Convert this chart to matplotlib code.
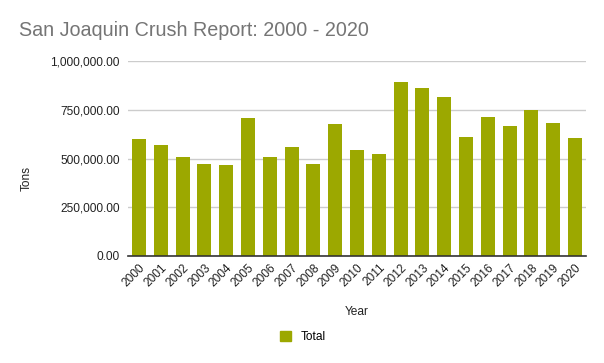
import matplotlib.pyplot as plt
from matplotlib.patches import Patch

plt.rcParams['font.family'] = ['Liberation Sans', 'DejaVu Sans']

years = [str(y) for y in range(2000, 2021)]
tons = [599000, 568000, 507000, 473000, 466000, 707000, 507000, 558000, 473000,
        678000, 545000, 522000, 892000, 861000, 815000, 610000, 712000, 666000,
        748000, 682000, 604000]
yticks = [0, 250000, 500000, 750000, 1000000]
ytick_labels = ['0.00', '250,000.00', '500,000.00', '750,000.00', '1,000,000.00']

bar_color = '#9ca800'

fig = plt.figure(figsize=(6.04, 3.63), dpi=100)
ax = fig.add_axes([128 / 604, 1 - 256 / 363, (586 - 128) / 604, (256 - 61.3) / 363])

x = list(range(len(years)))
ax.bar(x, tons, width=0.64, color=bar_color, zorder=3)

ax.set_xlim(-0.5, len(years) - 0.5)
ax.set_ylim(0, 1000000)
ax.set_yticks(yticks)
ax.set_yticklabels(ytick_labels, fontsize=8.6, color='#222222')
ax.set_xticks(x)
ax.set_xticklabels(years, rotation=45, ha='right', rotation_mode='anchor',
                   fontsize=8.6, color='#222222')
ax.tick_params(axis='both', length=0, pad=6)
ax.tick_params(axis='x', pad=4)

ax.grid(axis='y', color='#cccccc', linewidth=1, zorder=0)
for side in ['left', 'right', 'top']:
    ax.spines[side].set_visible(False)
ax.spines['bottom'].set_color('#333333')
ax.spines['bottom'].set_linewidth(1.2)
ax.spines['bottom'].set_zorder(4)

fig.text(19 / 604, 1 - 31 / 363, 'San Joaquin Crush Report: 2000 - 2020',
         fontsize=14.2, color='#757575', va='center', ha='left')
fig.text(357 / 604, 1 - 312 / 363, 'Year', fontsize=8.6, color='#222222',
         ha='center', va='center')
fig.text(27 / 604, 1 - 178 / 363, 'Tons', fontsize=8.6, color='#222222',
         ha='center', va='center', rotation=90)

fig.legend(handles=[Patch(color=bar_color, label='Total')],
           loc='center', bbox_to_anchor=(303 / 604, 1 - 337 / 363),
           frameon=False, fontsize=8.6, handlelength=0.9, handleheight=0.9,
           handletextpad=0.8)

fig.savefig('out.png', dpi=100)
